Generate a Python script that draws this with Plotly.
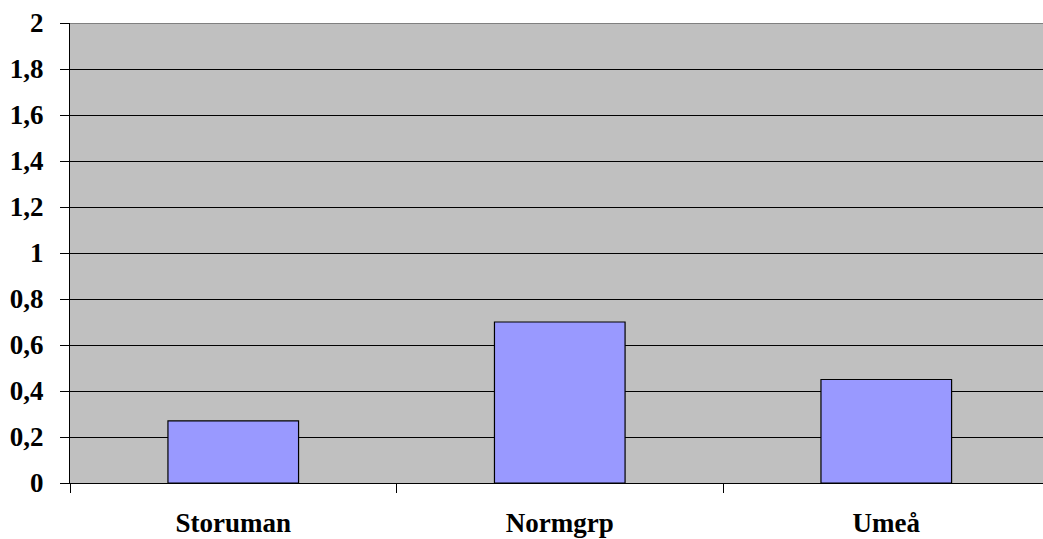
import plotly.graph_objects as go

# Data
categories = ["Storuman", "Normgrp", "Umeå"]
values = [0.27, 0.70, 0.45]
y_tick_vals = [0, 0.2, 0.4, 0.6, 0.8, 1.0, 1.2, 1.4, 1.6, 1.8, 2.0]
y_tick_text = ["0", "0,2", "0,4", "0,6", "0,8", "1", "1,2", "1,4", "1,6", "1,8", "2"]

FONT = "Times New Roman, Liberation Serif, DejaVu Serif, serif"

fig = go.Figure(
    go.Bar(
        x=categories,
        y=values,
        width=0.4,
        marker=dict(color="#9999FF", line=dict(color="black", width=1.2)),
        hoverinfo="skip",
    )
)

fig.update_layout(
    width=1043,
    height=539,
    margin=dict(l=70, r=0, t=23, b=56),
    paper_bgcolor="white",
    plot_bgcolor="#C0C0C0",
    showlegend=False,
    font=dict(family=FONT, color="black"),
)

fig.update_xaxes(
    type="category",
    range=[-0.5, 2.48],
    automargin=False,
    tickson="boundaries",
    ticks="outside",
    ticklen=9,
    tickcolor="black",
    tickwidth=1,
    showline=True,
    linecolor="black",
    linewidth=1,
    showgrid=False,
    tickvals=categories,
    ticktext=[f"<b>{c}</b>" for c in categories],
    tickfont=dict(family=FONT, size=27, color="black"),
    ticklabelstandoff=16,
)

fig.update_yaxes(
    range=[0, 2],
    automargin=False,
    tickvals=y_tick_vals,
    ticktext=[f"<b>{t}</b>" for t in y_tick_text],
    ticks="outside",
    ticklen=9,
    tickcolor="black",
    tickwidth=1,
    showline=True,
    linecolor="black",
    linewidth=1,
    showgrid=True,
    gridcolor="black",
    gridwidth=1,
    zeroline=False,
    tickfont=dict(family=FONT, size=27, color="black"),
    ticklabelstandoff=11,
)

# Top edge of the plotting area drawn in grey
fig.add_shape(
    type="line", xref="paper", yref="y",
    x0=0, x1=1, y0=2, y1=2,
    line=dict(color="#808080", width=2),
)

fig.write_html("out.html")
